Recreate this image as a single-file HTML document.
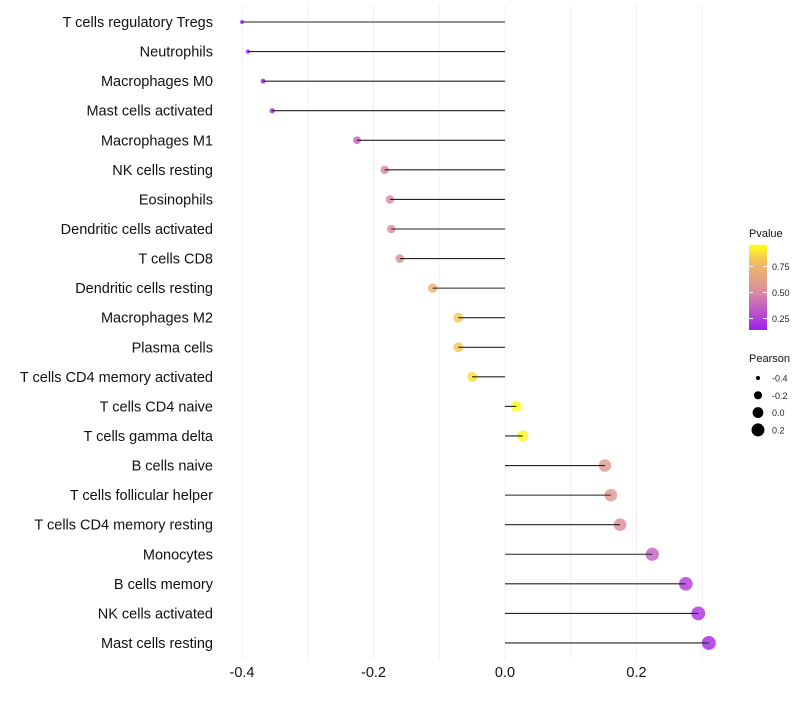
<!DOCTYPE html>
<html><head><meta charset="utf-8"><style>
body{margin:0;background:#fff;font-family:"Liberation Sans",sans-serif;}
</style></head><body>
<svg id="chart" width="800" height="700" xmlns="http://www.w3.org/2000/svg">
<g id="grid"></g>
<g id="dots"></g>
<g id="marks"></g>
<g id="ylabels"></g>
<g id="xlabels"></g>
<g id="legend"></g>
</svg>
<script>
const categories=["T cells regulatory  Tregs","Neutrophils","Macrophages M0","Mast cells activated","Macrophages M1","NK cells resting","Eosinophils","Dendritic cells activated","T cells CD8","Dendritic cells resting","Macrophages M2","Plasma cells","T cells CD4 memory activated","T cells CD4 naive","T cells gamma delta","B cells naive","T cells follicular helper","T cells CD4 memory resting","Monocytes","B cells memory","NK cells activated","Mast cells resting"];
const pearson=[-0.400,-0.391,-0.368,-0.354,-0.225,-0.183,-0.175,-0.173,-0.160,-0.110,-0.071,-0.071,-0.050,0.017,0.027,0.152,0.161,0.175,0.224,0.275,0.294,0.310];
const pvalue=[0.12,0.13,0.15,0.16,0.36,0.50,0.52,0.52,0.55,0.72,0.82,0.82,0.88,0.96,0.94,0.60,0.57,0.52,0.36,0.24,0.21,0.18];
const xTicks=[-0.4,-0.2,0.0,0.2];
const xTickLabels=["-0.4","-0.2","0.0","0.2"];
const gridVals=[-0.4,-0.3,-0.2,-0.1,0,0.1,0.2,0.3];
const legendP=[0.75,0.50,0.25];
const legendS=[-0.4,-0.2,0.0,0.2];

const NS="http://www.w3.org/2000/svg";
const x=v=>505+v*657.5;
const y=i=>22+i*29.57;
const r=v=>Math.sqrt(Math.max(1,4+63.3*(v+0.4)));
const stops=[[0.14,[160,32,240]],[0.5,[216,138,160]],[0.8,[243,192,96]],[0.96,[255,255,20]]];
function col(p){if(p<=stops[0][0])return rgb(stops[0][1]);for(let k=1;k<stops.length;k++){if(p<=stops[k][0]){const t=(p-stops[k-1][0])/(stops[k][0]-stops[k-1][0]);const a=stops[k-1][1],b=stops[k][1];return rgb(a.map((c,j)=>c+(b[j]-c)*t));}}return rgb(stops[stops.length-1][1]);}
function rgb(a){return `rgb(${a.map(Math.round).join(',')})`;}
function mk(tag,attrs,parent){const e=document.createElementNS(NS,tag);for(const k in attrs)e.setAttribute(k,attrs[k]);parent.appendChild(e);return e;}
const G=document.getElementById('grid'),D=document.getElementById('dots'),M=document.getElementById('marks'),YL=document.getElementById('ylabels'),XL=document.getElementById('xlabels'),L=document.getElementById('legend');
gridVals.forEach(v=>{const l=mk('line',{x1:x(v),x2:x(v),y1:5,y2:660,stroke:'#f0f0f0','stroke-width':1},G);

});
categories.forEach((c,i)=>{
 const d=mk('circle',{cx:x(pearson[i]),cy:y(i),r:r(pearson[i]),fill:col(pvalue[i]),'fill-opacity':0.82},D);
 
 
 const s=mk('line',{x1:x(pearson[i]),x2:x(0),y1:y(i),y2:y(i),stroke:'#222','stroke-width':1.1},M);
 
 
 const t=mk('text',{x:213,y:y(i)+5,'text-anchor':'end','font-size':14.5,fill:'#111'},YL);
 t.textContent=c;
 
 
});
xTicks.forEach((v,i)=>{const t=mk('text',{x:x(v),y:677,'text-anchor':'middle','font-size':14.5,fill:'#111'},XL);t.textContent=xTickLabels[i];

});
const tp=mk('text',{x:749,y:237,'font-size':11,fill:'#111'},L);tp.textContent='Pvalue';


const defs=mk('defs',{},L);const lg=mk('linearGradient',{id:'pg',x1:0,y1:1,x2:0,y2:0},defs);
[0.14,0.5,0.8,0.96].forEach(p=>mk('stop',{offset:(p-0.14)/(0.96-0.14),'stop-color':col(p)},lg));
const py=p=>330-(p-0.14)*104;
const bar=mk('rect',{x:749,y:py(0.96),width:18,height:py(0.14)-py(0.96),fill:'url(#pg)'},L);


legendP.forEach(p=>{mk('line',{x1:749,x2:753,y1:py(p),y2:py(p),stroke:'#fff'},L);mk('line',{x1:763,x2:767,y1:py(p),y2:py(p),stroke:'#fff'},L);
const t=mk('text',{x:772,y:py(p)+3.5,'font-size':9,fill:'#222'},L);t.textContent=p.toFixed(2);

});
const ts=mk('text',{x:749,y:362,'font-size':11,fill:'#111'},L);ts.textContent='Pearson';


legendS.forEach((v,i)=>{const cy=378+i*17.3;mk('circle',{cx:758,cy:cy,r:r(v),fill:'#000'},L);
const t=mk('text',{x:772,y:cy+3.5,'font-size':9,fill:'#222'},L);t.textContent=v.toFixed(1);

});
</script>
</body></html>
